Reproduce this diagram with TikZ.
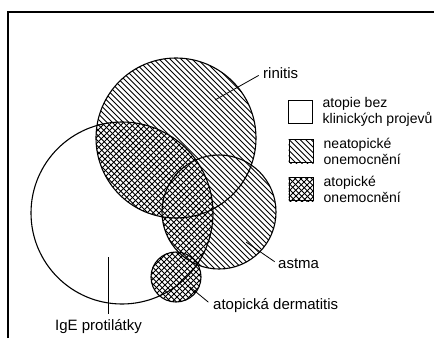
\documentclass[tikz,border=0pt]{standalone}
\usepackage{fontspec}
\setmainfont{Liberation Sans}
\usetikzlibrary{positioning}

\tikzset{
  rim/.style={line width=1.1pt},
  hatchline/.style={line width=0.85pt},
  lbl/.style={font=\fontsize{15}{17}\selectfont, inner sep=0pt, anchor=west},
  legtxt/.style={font=\fontsize{14}{16}\selectfont, inner sep=0pt, align=left},
  keybox/.style={draw, line width=1pt, minimum width=24pt, minimum height=23pt, inner sep=0pt},
  leader/.style={line width=0.8pt},
}
% hatching, clipped by the caller
\newcommand{\backhatch}{\foreach \c in {-340,-334.5,...,440} \draw[hatchline] (\c,0) -- ++(340,340);}
\newcommand{\fwdhatch}{\foreach \c in {0,6,...,780} \draw[hatchline] (\c,0) -- ++(-340,340);}

\begin{document}
\begin{tikzpicture}[x=1pt, y=-1pt]
    \useasboundingbox (0,0) rectangle (434,338);
    \fill[white] (0,0) rectangle (434,338);
    \draw[line width=2pt] (8,338) -- (8,12) -- (434,12);

    % the four sets
    \coordinate (rinC) at (176,138);
    \coordinate (igeC) at (122,213);
    \coordinate (astC) at (219,212);
    \coordinate (derC) at (176,277);

    \begin{scope}
      \clip (rinC) circle (80) (astC) circle (57) (derC) circle (25);
      \backhatch
    \end{scope}
    \begin{scope}
      \clip (igeC) circle (91);
      \clip (rinC) circle (80) (astC) circle (57);
      \fwdhatch
    \end{scope}
    \begin{scope}
      \clip (derC) circle (25);
      \fwdhatch
    \end{scope}

    \draw[rim] (rinC) circle (80);
    \draw[rim] (igeC) circle (91);
    \draw[rim] (astC) circle (57);
    \draw[rim] (derC) circle (25);

    % labels
    \node[lbl] (rinitis) at (263,73) {rinitis};
    \node[lbl] (astma) at (278,264) {astma};
    \node[lbl] (derm) at (213,306) {atopická dermatitis};
    \node[lbl] (ige) at (55,327) {IgE protilátky};

    \coordinate (rinP) at (215,100);
    \coordinate (astP) at (246,242);
    \coordinate (derP) at (190,287);
    \coordinate (igeP) at (108,257);
    \draw[leader, shorten >=5pt] (rinP) -- (rinitis.west);
    \draw[leader, shorten >=4pt] (astP) -- (astma.west);
    \draw[leader, shorten >=6pt] (derP) -- (derm.west);
    \draw[leader, shorten >=6pt] (igeP) -- (igeP |- ige.north);

    % key
    \node[keybox] (key1) at (300,112) {};
    \node[keybox] (key2) at (301,151) {};
    \node[keybox] (key3) at (301,189) {};
    \begin{scope}
      \clip (key2.south west) rectangle (key2.north east);
      \backhatch
    \end{scope}
    \begin{scope}
      \clip (key3.south west) rectangle (key3.north east);
      \backhatch
      \fwdhatch
    \end{scope}
    \node[keybox] at (key2) {};
    \node[keybox] at (key3) {};

    \node[legtxt, right=10pt of key1] (txt1) {atopie bez\\klinických projevů};
    \node[legtxt, right=10pt of key2] (txt2) {neatopické\\onemocnění};
    \node[legtxt, right=10pt of key3] (txt3) {atopické\\onemocnění};
  \end{tikzpicture}
\end{document}
